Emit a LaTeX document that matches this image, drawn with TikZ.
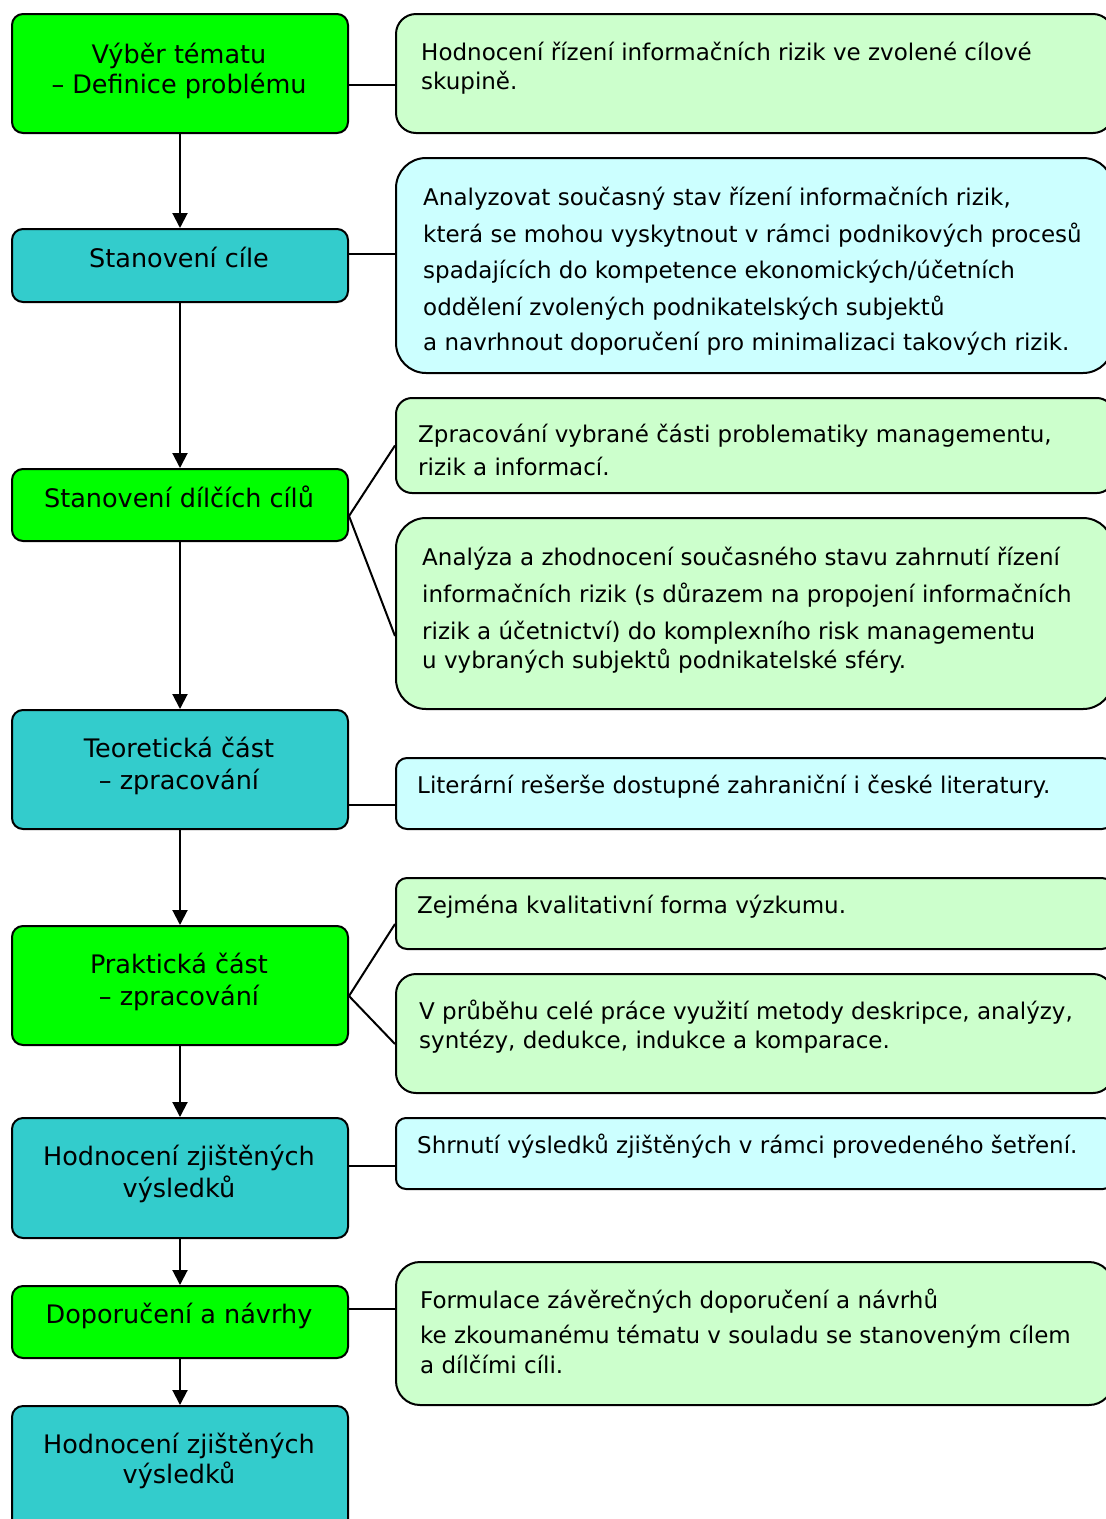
\documentclass[tikz,border=0pt]{standalone}
\usepackage{fontspec}
\setmainfont{DejaVu Sans}
\usetikzlibrary{arrows.meta}

\definecolor{stagegreen}{HTML}{00FF00}
\definecolor{stageteal}{HTML}{33CCCC}
\definecolor{notegreen}{HTML}{CCFFCC}
\definecolor{notecyan}{HTML}{CCFFFF}

\begin{document}
\begin{tikzpicture}[x=1pt, y=-1pt,
  stage/.style={draw=black, line width=2pt, rounded corners=11pt,
    minimum width=336pt, inner sep=0pt, anchor=north west},
  note/.style={draw=black, line width=2pt, minimum width=717pt,
    inner sep=0pt, anchor=north west},
  stagetxt/.style={anchor=base, inner sep=0pt, font=\fontsize{25.5}{30}\selectfont},
  notetxt/.style={anchor=base west, inner sep=0pt, font=\fontsize{23}{29}\selectfont},
  flow/.style={line width=2pt, -{Triangle[width=15pt,length=15pt]}},
  link/.style={line width=2pt},
]
\useasboundingbox (0,0) rectangle (1106,1519);

% ---------- process stages (left column) ----------
\node[stage, fill=stagegreen, minimum height=119pt] (b1) at (11,13) {};
\node[stagetxt] (b1a) at (179,63) {Výběr tématu};
\node[stagetxt] (b1b) at (179,93) {– Definice problému};

\node[stage, fill=stageteal, minimum height=73pt] (b2) at (11,228) {};
\node[stagetxt] (b2a) at (179,267) {Stanovení cíle};

\node[stage, fill=stagegreen, minimum height=72pt] (b3) at (11,468) {};
\node[stagetxt] (b3a) at (179,507) {Stanovení dílčích cílů};

\node[stage, fill=stageteal, minimum height=119pt] (b4) at (11,709) {};
\node[stagetxt] (b4a) at (179,757) {Teoretická část};
\node[stagetxt] (b4b) at (179,789) {– zpracování};

\node[stage, fill=stagegreen, minimum height=119pt] (b5) at (11,925) {};
\node[stagetxt] (b5a) at (179,973) {Praktická část};
\node[stagetxt] (b5b) at (179,1005) {– zpracování};

\node[stage, fill=stageteal, minimum height=120pt] (b6) at (11,1117) {};
\node[stagetxt] (b6a) at (179,1165) {Hodnocení zjištěných};
\node[stagetxt] (b6b) at (179,1197) {výsledků};

\node[stage, fill=stagegreen, minimum height=72pt] (b7) at (11,1285) {};
\node[stagetxt] (b7a) at (179,1323) {Doporučení a návrhy};

\node[stage, fill=stageteal, minimum height=125pt] (b8) at (11,1405) {};
\node[stagetxt] (b8a) at (179,1453) {Hodnocení zjištěných};
\node[stagetxt] (b8b) at (179,1483) {výsledků};

% ---------- descriptions (right column) ----------
\node[note, fill=notegreen, minimum height=119pt, rounded corners=20pt] (r1) at (395,13) {};
\node[notetxt] (r1a) at (421,60) {Hodnocení řízení informačních rizik ve zvolené cílové};
\node[notetxt] (r1b) at (421,89) {skupině.};

\node[note, fill=notecyan, minimum height=215pt, rounded corners=30pt] (r2) at (395,157) {};
\node[notetxt] (r2a) at (423,205) {Analyzovat současný stav řízení informačních rizik,};
\node[notetxt] (r2b) at (423,242) {která se mohou vyskytnout v rámci podnikových procesů};
\node[notetxt] (r2c) at (423,278) {spadajících do kompetence ekonomických/účetních};
\node[notetxt] (r2d) at (423,315) {oddělení zvolených podnikatelských subjektů};
\node[notetxt] (r2e) at (423,350) {a navrhnout doporučení pro minimalizaci takových rizik.};

\node[note, fill=notegreen, minimum height=95pt, rounded corners=16pt] (r3) at (395,397) {};
\node[notetxt] (r3a) at (418,442) {Zpracování vybrané části problematiky managementu,};
\node[notetxt] (r3b) at (418,475) {rizik a informací.};

\node[note, fill=notegreen, minimum height=191pt, rounded corners=30pt] (r4) at (395,517) {};
\node[notetxt] (r4a) at (422,565) {Analýza a zhodnocení současného stavu zahrnutí řízení};
\node[notetxt] (r4b) at (422,602) {informačních rizik (s důrazem na propojení informačních};
\node[notetxt] (r4c) at (422,639) {rizik a účetnictví) do komplexního risk managementu};
\node[notetxt] (r4d) at (422,668) {u vybraných subjektů podnikatelské sféry.};

\node[note, fill=notecyan, minimum height=71pt, rounded corners=11pt] (r5) at (395,757) {};
\node[notetxt] (r5a) at (417,793) {Literární rešerše dostupné zahraniční i české literatury.};

\node[note, fill=notegreen, minimum height=71pt, rounded corners=11pt] (r6) at (395,877) {};
\node[notetxt] (r6a) at (417,913) {Zejména kvalitativní forma výzkumu.};

\node[note, fill=notegreen, minimum height=119pt, rounded corners=20pt] (r7) at (395,973) {};
\node[notetxt] (r7a) at (419,1019) {V průběhu celé práce využití metody deskripce, analýzy,};
\node[notetxt] (r7b) at (419,1048) {syntézy, dedukce, indukce a komparace.};

\node[note, fill=notecyan, minimum height=71pt, rounded corners=10pt] (r8) at (395,1117) {};
\node[notetxt] (r8a) at (417,1153) {Shrnutí výsledků zjištěných v rámci provedeného šetření.};

\node[note, fill=notegreen, minimum height=143pt, rounded corners=24pt] (r9) at (395,1261) {};
\node[notetxt] (r9a) at (420,1308) {Formulace závěrečných doporučení a návrhů};
\node[notetxt] (r9b) at (420,1343) {ke zkoumanému tématu v souladu se stanoveným cílem};
\node[notetxt] (r9c) at (420,1373) {a dílčími cíli.};

% ---------- flow between stages ----------
\draw[flow] (b1.south) -- (b2.north);
\draw[flow] (b2.south) -- (b3.north);
\draw[flow] (b3.south) -- (b4.north);
\draw[flow] (b4.south) -- (b5.north);
\draw[flow] (b5.south) -- (b6.north);
\draw[flow] (b6.south) -- (b7.north);
\draw[flow] (b7.south) -- (b8.north);

% ---------- links from stages to their descriptions ----------
\draw[link] ([yshift=-11.5pt]b1.east) -- ([yshift=-11.5pt]b1.east -| r1.west);
\draw[link] ([yshift=11.5pt]b2.east) -- ([yshift=11.5pt]b2.east -| r2.west);
\draw[link] (r3.west) -- ([yshift=-11pt]b3.east) -- ([yshift=-22.5pt]r4.west);
\draw[link] ([yshift=-35.5pt]b4.east) -- ([yshift=-35.5pt]b4.east -| r5.west);
\draw[link] ([yshift=-10.5pt]r6.west) -- ([yshift=-10.5pt]b5.east) -- ([yshift=-10.5pt]r7.west);
\draw[link] ([yshift=12pt]b6.east) -- ([yshift=12pt]b6.east -| r8.west);
\draw[link] ([yshift=13pt]b7.east) -- ([yshift=13pt]b7.east -| r9.west);
\end{tikzpicture}
\end{document}
